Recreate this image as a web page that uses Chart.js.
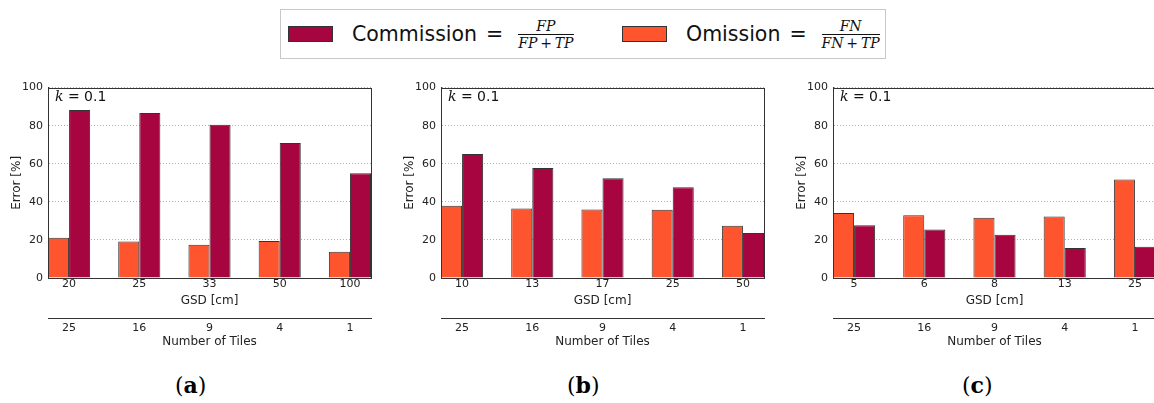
<!DOCTYPE html>
<html>
  <head>
    <script src="https://cdn.jsdelivr.net/npm/chart.js@4.4.0/dist/chart.umd.min.js"></script>
    <style type="text/css">
      body { margin: 0; width: 1154px; height: 403px; overflow: hidden; position: relative; background: #fff; font-family: "DejaVu Sans", sans-serif; }
      canvas { position: absolute; top: 76px; }
      .legend { position: absolute; left: 280px; top: 9px; width: 604px; height: 48px; border: 1px solid #c8c8c8; }
      .item { position: absolute; top: 0; height: 48px; display: flex; align-items: center; font-size: 20.5px; color: #111; white-space: nowrap; }
      .swatch { display: inline-block; width: 43px; height: 14px; border: 1px solid #333; margin-right: 19px; }
      .eq { margin: 0 15px 0 9px; }
      .frac { display: inline-flex; flex-direction: column; align-items: center; font-family: "DejaVu Serif", serif; font-style: italic; font-size: 14px; line-height: 14px; }
      .frac .num { padding: 0 1px 1px; }
      .frac .den { padding-top: 1px; border-top: 1px solid #111; }
      .plabel { position: absolute; top: 372px; font-family: "DejaVu Serif", serif; font-size: 22px; color: #000; }
      .plabel b { font-weight: bold; }
    </style>
  </head>

  <body>
    <div class="legend">
      <div class="item" style="left: 7px">
        <span class="swatch" style="background: #a6053f"></span>
        Commission<span class="eq">=</span>
        <span class="frac"><span class="num">FP</span><span class="den">FP&#8201;+&#8201;TP</span></span>
      </div>
      <div class="item" style="left: 341px">
        <span class="swatch" style="background: #ff552e"></span>
        Omission<span class="eq">=</span>
        <span class="frac"><span class="num">FN</span><span class="den">FN&#8201;+&#8201;TP</span></span>
      </div>
    </div>

    <canvas id="chart-a" width="380" height="274" style="left: 0px"></canvas>
    <canvas id="chart-b" width="380" height="274" style="left: 393px"></canvas>
    <canvas id="chart-c" width="380" height="274" style="left: 785px"></canvas>

    <div class="plabel" style="left: 175px">(<b>a</b>)</div>
    <div class="plabel" style="left: 567px">(<b>b</b>)</div>
    <div class="plabel" style="left: 962px">(<b>c</b>)</div>

    <script type="text/javascript">
      var tiles = ["25", "16", "9", "4", "1"];

      var gsdA = ["20", "25", "33", "50", "100"];
      var omissionA = [21.1, 19.2, 17.5, 19.4, 13.8];
      var commissionA = [88.3, 86.7, 80.5, 70.9, 55.0];

      var gsdB = ["10", "13", "17", "25", "50"];
      var omissionB = [37.9, 36.5, 36.0, 35.8, 27.4];
      var commissionB = [65.1, 57.8, 52.4, 47.6, 23.6];

      var gsdC = ["5", "6", "8", "13", "25"];
      var omissionC = [34.2, 33.0, 31.6, 32.3, 51.7];
      var commissionC = [27.7, 25.5, 22.7, 15.7, 16.4];

      var ORANGE = "#ff552e";
      var CRIMSON = "#a6053f";
      var EDGE = "#333333";
      var FONT = "'DejaVu Sans', sans-serif";

      // top and right spines plus the k annotation
      var framePlugin = {
        id: "frame",
        afterDraw: function(chart) {
          var ctx = chart.ctx, a = chart.chartArea;
          ctx.save();
          ctx.strokeStyle = EDGE;
          ctx.lineWidth = 1;
          ctx.strokeRect(Math.round(a.left) + 0.5, Math.round(a.top) + 0.5, Math.round(a.right - a.left), Math.round(a.bottom - a.top));
          ctx.fillStyle = "#111";
          ctx.textBaseline = "middle";
          ctx.font = "italic 14px 'DejaVu Serif', serif";
          var x = a.left + 7, y = a.top + 10;
          ctx.fillText("k", x, y);
          x += ctx.measureText("k").width;
          ctx.font = "14px " + FONT;
          ctx.fillText(" = 0.1", x, y);
          ctx.restore();
        }
      };

      var toPoints = function(values) {
        return values.map(function(v, i) { return { x: i, y: v }; });
      };

      var integerTicks = function(n) {
        return function(scale) {
          scale.ticks = [];
          for (var i = 0; i < n; i++) scale.ticks.push({ value: i });
        };
      };

      var drawPanel = function(id, gsd, omission, commission) {
        var ctx = document.getElementById(id).getContext("2d");
        new Chart(ctx, {
          type: "bar",
          data: {
            datasets: [
              { label: "Omission", data: toPoints(omission), backgroundColor: ORANGE, borderColor: EDGE, borderWidth: 1 },
              { label: "Commission", data: toPoints(commission), backgroundColor: CRIMSON, borderColor: EDGE, borderWidth: 1 }
            ]
          },
          options: {
            responsive: false,
            animation: false,
            categoryPercentage: 0.6,
            barPercentage: 1.0,
            layout: { padding: { top: 2, right: 9, left: 0, bottom: 0 } },
            plugins: { legend: { display: false }, tooltip: { enabled: false } },
            scales: {
              x: {
                type: "linear",
                position: "bottom",
                offset: false,
                min: -0.3,
                max: 4.3,
                afterBuildTicks: integerTicks(gsd.length),
                afterFit: function(scale) { scale.height = 40; },
                grid: { display: false, drawTicks: false, offset: false },
                border: { display: true, color: EDGE },
                ticks: {
                  padding: 0,
                  color: "#222",
                  font: { family: FONT, size: 11 },
                  callback: function(v) { return gsd[v]; }
                },
                title: { display: true, text: "GSD [cm]", color: "#222", font: { family: FONT, size: 12 }, padding: { top: 0, bottom: 10 } }
              },
              x2: {
                type: "linear",
                position: "bottom",
                offset: false,
                min: -0.3,
                max: 4.3,
                afterBuildTicks: integerTicks(tiles.length),
                afterFit: function(scale) { scale.height = 32; },
                grid: { display: false, drawTicks: false, offset: false },
                border: { display: true, color: EDGE },
                ticks: {
                  padding: 4,
                  color: "#222",
                  font: { family: FONT, size: 11 },
                  callback: function(v) { return tiles[v]; }
                },
                title: { display: true, text: "Number of Tiles", color: "#222", font: { family: FONT, size: 12 }, padding: { top: 0, bottom: 1 } }
              },
              y: {
                min: 0,
                max: 100,
                afterFit: function(scale) { scale.width = 48; },
                grid: { color: "#b0b0b0", drawTicks: false },
                border: { display: true, color: EDGE, dash: [1, 2] },
                ticks: { stepSize: 20, padding: 5, color: "#222", font: { family: FONT, size: 11 } },
                title: { display: true, text: "Error [%]", color: "#222", font: { family: FONT, size: 12 }, padding: { top: 10, bottom: 0 } }
              }
            }
          },
          plugins: [framePlugin]
        });
      };

      drawPanel("chart-a", gsdA, omissionA, commissionA);
      drawPanel("chart-b", gsdB, omissionB, commissionB);
      drawPanel("chart-c", gsdC, omissionC, commissionC);
    </script>
  </body>
</html>
